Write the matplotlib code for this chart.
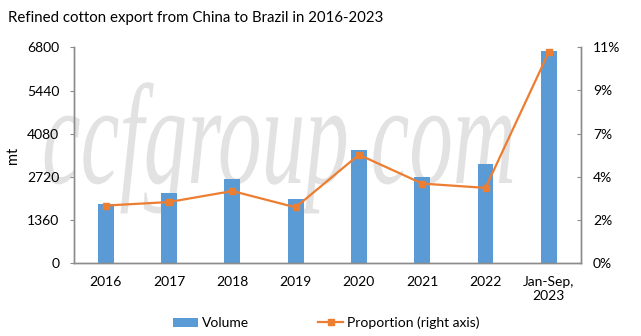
import matplotlib.pyplot as plt
from matplotlib.textpath import TextPath
from matplotlib.patches import PathPatch
from matplotlib.font_manager import FontProperties
from matplotlib.transforms import Affine2D
from matplotlib.ticker import FixedLocator, FuncFormatter

categories = ["2016", "2017", "2018", "2019", "2020", "2021", "2022", "Jan-Sep,\n2023"]
volume = [1860, 2200, 2645, 2015, 3555, 2705, 3115, 6670]          # mt
proportion = [0.0294, 0.0312, 0.0368, 0.0285, 0.0553, 0.0406, 0.0384, 0.1076]

vol_ticks = [0, 1360, 2720, 4080, 5440, 6800]
pct_ticks = [0, 0.022, 0.044, 0.066, 0.088, 0.11]

bar_c = "#5B9BD5"
line_c = "#ED7D31"
axis_c = "#8C8C8C"
plt.rcParams["font.family"] = ["Lato", "DejaVu Sans"]

fig = plt.figure(figsize=(6.41, 3.36), dpi=100)
ax = fig.add_axes([74 / 641, 1 - 263.3 / 336, 506.5 / 641, 216 / 336])
ax2 = ax.twinx()

# watermark, squeezed horizontally
tp = TextPath((0, 0), "ccfgroup.com", size=143,
              prop=FontProperties(family="Liberation Serif", style="italic"))
tr = Affine2D().scale(0.61, 1.0).translate(42, 336 - 183)
wm = PathPatch(tr.transform_path(tp), facecolor="#e2e2e2", edgecolor="none",
               transform=None, zorder=0)
fig.patches.append(wm)
ax.set_zorder(1)
ax2.set_zorder(2)
ax.patch.set_visible(False)
ax2.patch.set_visible(False)

x = list(range(len(categories)))
ax.bar(x, volume, width=0.25, color=bar_c, label="Volume", zorder=2)
ax2.plot(x, proportion, color=line_c, lw=1.6, marker="s", markersize=5,
         label="Proportion (right axis)", zorder=3)

ax.set_xlim(-0.5, 7.5)
ax.set_ylim(0, 6800)
ax2.set_ylim(0, 0.11)
ax.yaxis.set_major_locator(FixedLocator(vol_ticks))
ax2.yaxis.set_major_locator(FixedLocator(pct_ticks))
ax2.yaxis.set_major_formatter(FuncFormatter(lambda v, p: f"{v * 100:.0f}%"))
ax.set_xticks(x)
ax.set_xticklabels(categories, fontsize=10)

for a in (ax, ax2):
    a.spines["top"].set_visible(False)
    for s in ("left", "right", "bottom"):
        a.spines[s].set_color(axis_c)
        a.spines[s].set_linewidth(1)
    a.tick_params(axis="y", labelsize=10, color=axis_c, length=3)
ax.tick_params(axis="y", pad=7.5)
ax.tick_params(axis="x", length=0, pad=9.5)
ax2.tick_params(axis="y", direction="in", pad=9)

ax.set_ylabel("mt", fontsize=10.5, labelpad=5)

fig.text(8 / 641, 1 - 18 / 336, "Refined cotton export from China to Brazil in 2016-2023",
         fontsize=10.8, va="center", ha="left")

h1, l1 = ax.get_legend_handles_labels()
h2, l2 = ax2.get_legend_handles_labels()
fig.legend(h1 + h2, l1 + l2, loc="center", bbox_to_anchor=(326 / 641, 1 - 323 / 336),
           ncol=2, frameon=False, fontsize=10, handlelength=1.8, handletextpad=0.25,
           columnspacing=5.0)

fig.savefig("out.png", dpi=100)
